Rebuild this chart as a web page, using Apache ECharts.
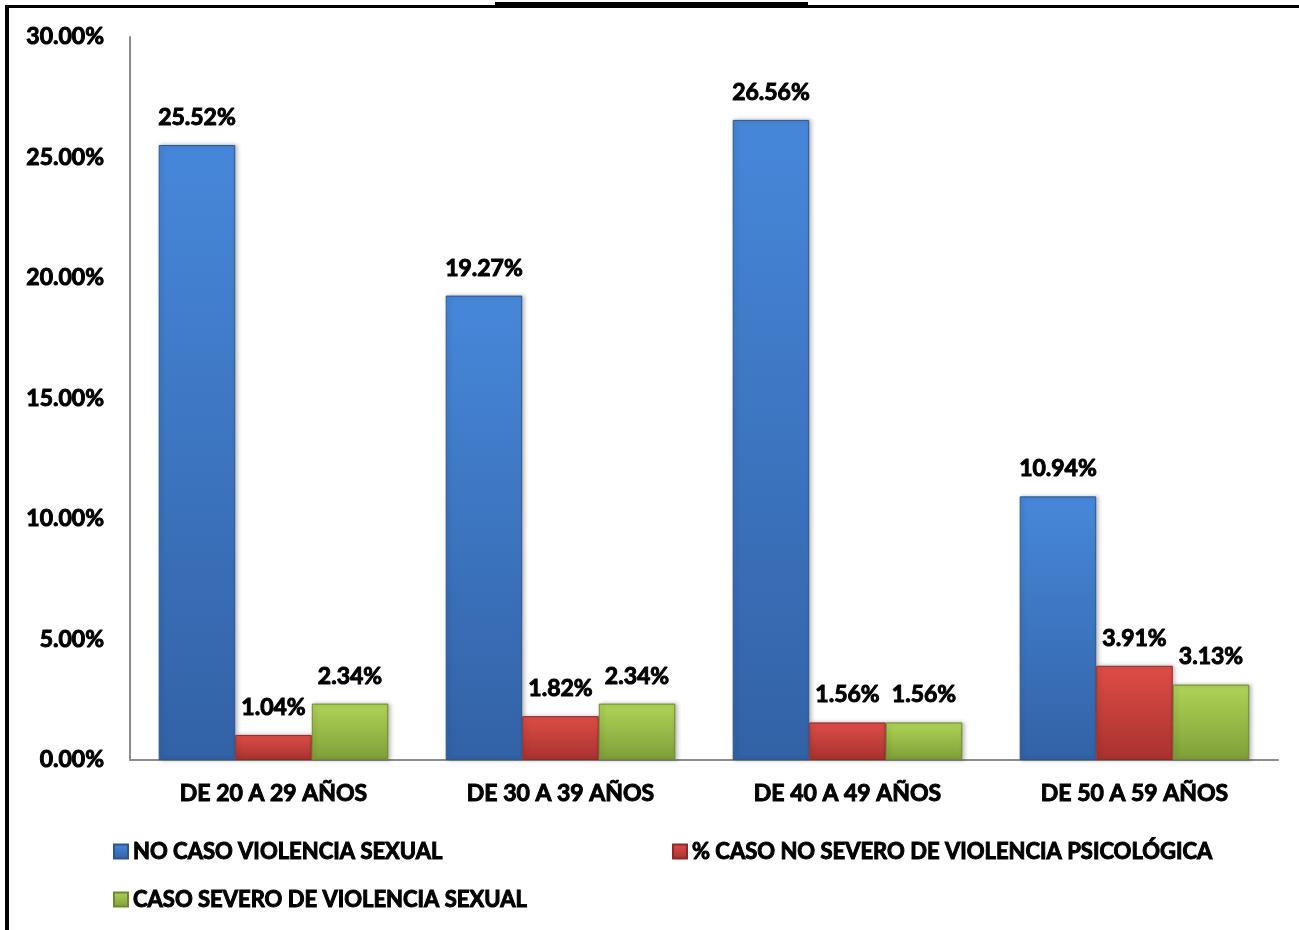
<!DOCTYPE html>
<html>
<head>
<meta charset="utf-8">
<script src="https://cdn.jsdelivr.net/npm/echarts@6/dist/echarts.min.js"></script>
<style>
  html, body { margin: 0; padding: 0; background: #fff; }
  #chart { width: 1299px; height: 930px; }
</style>
</head>
<body>
<div id="chart"></div>
<script>
var categories = ["DE 20 A 29 AÑOS", "DE 30 A 39 AÑOS", "DE 40 A 49 AÑOS", "DE 50 A 59 AÑOS"];
var seriesNames = [
  "NO CASO VIOLENCIA SEXUAL",
  "% CASO NO SEVERO DE VIOLENCIA PSICOLÓGICA",
  "CASO SEVERO DE VIOLENCIA SEXUAL"
];
var noCaso = [25.52, 19.27, 26.56, 10.94];
var casoNoSevero = [1.04, 1.82, 1.56, 3.91];
var casoSevero = [2.34, 2.34, 1.56, 3.13];
var yMin = 0, yMax = 30, yStep = 5;

var FONT = "Lato";

function grad(top, bottom) {
  return {
    type: "linear", x: 0, y: 0, x2: 0, y2: 1,
    colorStops: [
      { offset: 0, color: top },
      { offset: 0.04, color: top },
      { offset: 1, color: bottom }
    ]
  };
}

var styles = [
  { fill: grad("#4686d8", "#3262a6"), border: "#2c5690", solid: "#3f7ccc" },
  { fill: grad("#dc4c46", "#a8322f"), border: "#8e2a28", solid: "#c8403b" },
  { fill: grad("#aed156", "#7f9f38"), border: "#6c8a2c", solid: "#9bbf4a" }
];
var values = [noCaso, casoNoSevero, casoSevero];

var labelText = {
  fontFamily: FONT, fontWeight: "bold", fontSize: 23, color: "#000",
  textBorderColor: "#000", textBorderWidth: 1
};

var chart = echarts.init(document.getElementById("chart"));
chart.setOption({
  animation: false,
  backgroundColor: "#fff",
  grid: { left: 130, right: 21, top: 37, bottom: 170 },
  legend: [0, 1, 2].map(function (i) {
    var pos = [[108, 835], [667, 835], [108, 883]][i];
    return {
      data: [seriesNames[i]],
      left: pos[0], top: pos[1],
      icon: "rect", itemWidth: 14, itemHeight: 14, itemGap: 6,
      textStyle: Object.assign({}, labelText, { fontSize: 22 })
    };
  }),
  xAxis: {
    type: "category",
    data: categories,
    axisLine: { lineStyle: { color: "#8c8c8c", width: 2 } },
    axisTick: { show: false },
    axisLabel: Object.assign({ margin: 22 }, labelText)
  },
  yAxis: {
    type: "value",
    min: yMin, max: yMax, interval: yStep,
    axisLine: { show: true, lineStyle: { color: "#8c8c8c", width: 2 } },
    axisTick: { show: false },
    splitLine: { show: false },
    axisLabel: Object.assign({
      margin: 26,
      formatter: function (v) { return v.toFixed(2) + "%"; }
    }, labelText)
  },
  series: values.map(function (arr, i) {
    return {
      name: seriesNames[i],
      type: "bar",
      data: arr,
      color: styles[i].solid,
      barGap: "0%",
      barCategoryGap: "20%",
      itemStyle: {
        color: styles[i].fill,
        borderColor: styles[i].border,
        borderWidth: 1,
        shadowColor: "rgba(0,0,0,0.25)",
        shadowBlur: 4,
        shadowOffsetX: 2
      },
      label: Object.assign({
        show: true,
        position: "top",
        distance: 16,
        formatter: function (p) { return p.value.toFixed(2) + "%"; }
      }, labelText)
    };
  }),
  graphic: [
    { type: "rect", shape: { x: 5, y: 5, width: 1294, height: 3 }, style: { fill: "#000" } },
    { type: "rect", shape: { x: 495, y: 2, width: 313, height: 6 }, style: { fill: "#000" } },
    { type: "rect", shape: { x: 5, y: 5, width: 4, height: 925 }, style: { fill: "#000" } }
  ]
});
</script>
</body>
</html>
